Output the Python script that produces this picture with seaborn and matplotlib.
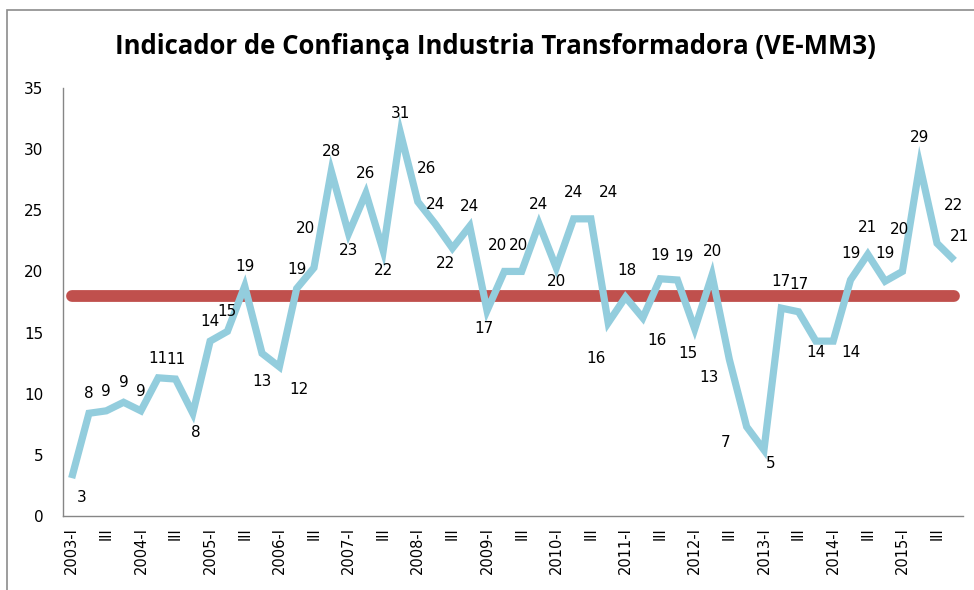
import numpy as np
import pandas as pd
import matplotlib
matplotlib.use("Agg")
import matplotlib.pyplot as plt
import seaborn as sns

# quarterly values, 2003-I .. 2015-IV
years = list(range(2003, 2016))
quarters = ["I", "II", "III", "IV"]
valores = [3.1, 8.4, 8.6, 9.3, 8.6, 11.3, 11.2, 8.4, 14.3, 15.1, 18.8, 13.3,
           12.2, 18.6, 20.3, 28.2, 23.1, 26.4, 21.7, 31.3, 25.7, 23.9, 21.9, 23.7,
           16.8, 20.0, 20.0, 23.9, 20.3, 24.3, 24.3, 15.8, 17.9, 16.2, 19.4, 19.3,
           15.3, 19.7, 12.8, 7.3, 5.4, 17.0, 16.7, 14.3, 14.3, 19.3, 21.4, 19.2,
           20.0, 28.7, 22.3, 20.9]
media = 18.0

periodos = [f"{y}-{q}" for y in years for q in quarters]
tick_labels = []
for y in years:
    tick_labels += [f"{y}-I", "III"]

# label offsets in points (dx, dy) - where excel put the data labels
label_off = [(7, -14), (0, 14), (0, 14), (0, 14), (0, 14), (0, 14), (0, 14), (2, -14),
             (0, 14), (0, 14), (0, 14), (0, -20), (14, -16), (0, 14), (-6, 28), (0, 14),
             (0, -12), (0, 14), (0, -14), (0, 14), (6, 24), (0, 14), (-5, -11), (0, 14),
             (-2, -13), (-5, 19), (-2, 19), (0, 14), (0, -10), (0, 19), (13, 19), (-9, -26),
             (1, 19), (10, -16), (0, 17), (5, 17), (-5, -18), (0, 17), (-15, -13), (-15, -11),
             (5, -10), (0, 19), (0, 20), (0, -8), (13, -8), (0, 19), (0, 19), (0, 20),
             (-2, 30), (0, 20), (12, 27), (4, 17)]

df = pd.DataFrame({"periodo": np.arange(len(valores)), "valor": valores, "media": media})

sns.set_style("white")
plt.rcParams['font.family'] = ['DejaVu Sans']
plt.rcParams['text.color'] = 'black'
plt.rcParams['xtick.color'] = 'black'
plt.rcParams['ytick.color'] = 'black'

fig = plt.figure(figsize=(9.74, 5.9), dpi=100)
ax = fig.add_axes([63 / 974, 1 - 516 / 590, 900 / 974, 428 / 590])

sns.lineplot(data=df, x="periodo", y="media", ax=ax, color="#C0504D", linewidth=8.5,
             solid_capstyle="round", zorder=2)
sns.lineplot(data=df, x="periodo", y="valor", ax=ax, color="#93CDDD", linewidth=5.2,
             solid_joinstyle="miter", solid_capstyle="butt", zorder=3)

for i, v in enumerate(valores):
    dx, dy = label_off[i]
    ax.annotate(f"{v:.0f}", (i, v), xytext=(dx, dy), textcoords="offset points",
                ha="center", va="center", fontsize=11, color="#000000", zorder=4,
                annotation_clip=False)

ax.set_xlim(-0.5, len(valores) - 0.5)
ax.set_ylim(0, 35)
ax.set_yticks(range(0, 36, 5))
ax.set_xticks(np.arange(0, len(valores), 2))
ax.set_xticklabels(tick_labels, rotation=90, fontsize=10.5)
ax.set_xticks(np.arange(-0.5, len(valores), 1), minor=True)
ax.tick_params(axis="x", which="major", length=0, pad=8, labelcolor="black")
ax.tick_params(axis="x", which="minor", length=5, width=1, color="#868686", direction="out")
ax.tick_params(axis="y", length=6, width=1, color="#868686", direction="out", labelsize=11,
               pad=8, labelcolor="black")
ax.set_xlabel("")
ax.set_ylabel("")

for s in ["top", "right"]:
    ax.spines[s].set_visible(False)
for s in ["left", "bottom"]:
    ax.spines[s].set_color("#868686")
    ax.spines[s].set_linewidth(1)

# chart area frame (clipped by image edge)
fig.add_artist(plt.Rectangle((7 / 974, -0.05), 1.05, 1 - 10 / 590 + 0.05,
                             transform=fig.transFigure, fill=False,
                             edgecolor="#8C8C8C", linewidth=1.2))

fig.text(495 / 974, 1 - 47 / 590, "Indicador de Confiança Industria Transformadora (VE-MM3)",
         ha="center", va="center", fontsize=18.5, fontweight="bold", family="Open Sans",
         color="black")

fig.savefig("out.png", dpi=100)
